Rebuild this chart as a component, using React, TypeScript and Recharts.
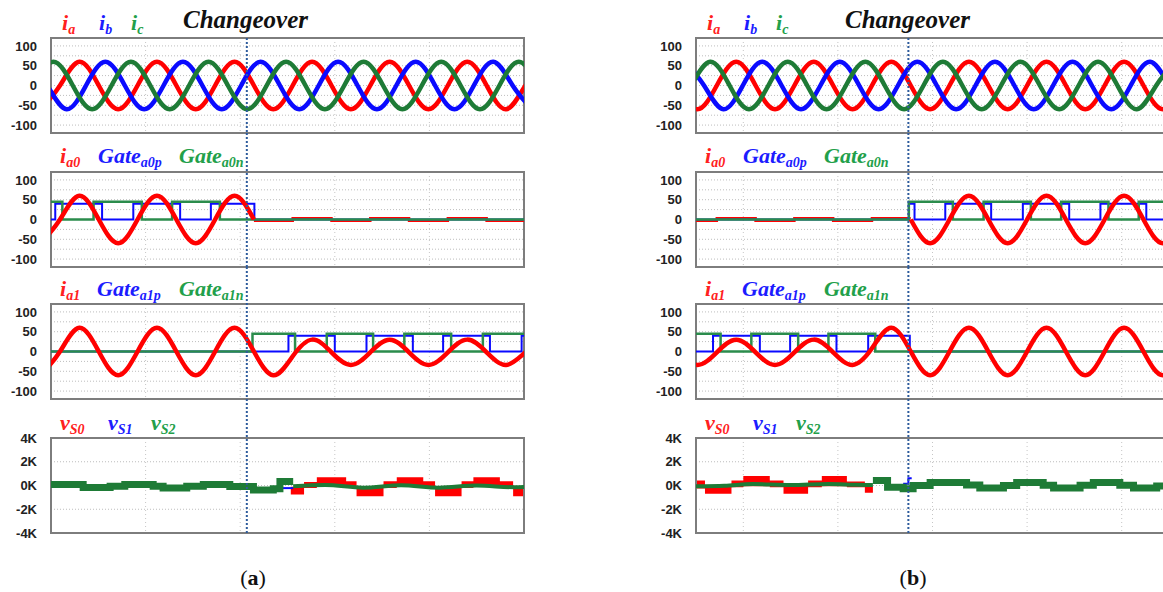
import React from 'react';
import {
  ComposedChart, Line, Area, XAxis, YAxis, CartesianGrid, ReferenceLine, ReferenceArea,
} from 'recharts';

// time in ms across each plot window
const changeoverA = 41.4;
const changeoverB = 44.9;
const gridA = [20, 40, 60, 80];
const gridB = [10, 30, 50, 70, 90];
const currentTicks = [-100, -75, -50, -25, 0, 25, 50, 75, 100];
const voltTicks = [-4000, -2000, 0, 2000, 4000];

// (a) load currents
const iaA = [[-2.2,-60],[1.9,0],[6.0,60],[10.1,0],[14.2,-60],[18.3,0],[22.4,60],[26.5,0],[30.6,-60],[34.7,0],[38.8,60],[42.9,0],[47.0,-60],[51.1,0],[55.2,60],[59.3,0],[63.4,-60],[67.5,0],[71.6,60],[75.7,0],[79.8,-60],[83.9,0],[88.0,60],[92.1,0],[96.2,-60],[100.3,0],[104.4,60]];
const ibA = [[-4.9,60],[-0.8,0],[3.3,-60],[7.4,0],[11.5,60],[15.6,0],[19.7,-60],[23.8,0],[27.9,60],[32.0,0],[36.1,-60],[40.2,0],[44.3,60],[48.4,0],[52.5,-60],[56.6,0],[60.7,60],[64.8,0],[68.9,-60],[73.0,0],[77.1,60],[81.2,0],[85.3,-60],[89.4,0],[93.5,60],[97.6,0],[101.7,-60]];
const icA = [[-3.6,0],[0.5,60],[4.6,0],[8.7,-60],[12.8,0],[16.9,60],[21.0,0],[25.1,-60],[29.2,0],[33.3,60],[37.4,0],[41.5,-60],[45.6,0],[49.7,60],[53.8,0],[57.9,-60],[62.0,0],[66.1,60],[70.2,0],[74.3,-60],[78.4,0],[82.5,60],[86.6,0],[90.7,-60],[94.8,0],[98.9,60],[103.0,0]];

// (a) leg 0 / leg 1
const ia0A = [[-2.2,-60],[1.9,0],[6.0,60],[10.1,0],[14.2,-60],[18.3,0],[22.4,60],[26.5,0],[30.6,-60],[34.7,0],[38.8,60],[42.9,0]];
const ia0ResA = [[42.9,-3],[51.1,3],[59.3,-3],[67.5,3],[75.7,-3],[83.9,3],[92.1,-3],[100,-3]];
const gateA0p = [[0,0],[0.9,40],[10.8,0],[17.4,40],[27.3,0],[33.8,40],[43.0,0],[100,0]];
const gateA0n = [[0,45],[2.4,0],[9.0,45],[19.2,0],[25.6,45],[35.7,0],[100,0]];
const ia1A = [[-2.2,-60],[1.9,0],[6.0,60],[10.1,0],[14.2,-60],[18.3,0],[22.4,60],[26.5,0],[30.6,-60],[34.7,0],[38.8,60],[42.9,0],[47.0,-60],[51.1,-12],[55.2,30],[59.3,-2],[63.4,-34],[67.5,-2],[71.6,30],[75.7,-2],[79.8,-34],[83.9,-2],[88.0,30],[92.1,-2],[96.2,-34],[100.3,-2],[104.4,30]];
const gateA1p = [[0,0],[50.2,40],[60.0,0],[66.7,40],[76.5,0],[82.9,40],[92.8,0],[99.5,40],[100,40]];
const gateA1n = [[0,0],[42.6,45],[51.6,0],[58.3,45],[68.1,0],[74.7,45],[84.6,0],[91.3,45],[100,45]];

// (a) switch voltages: [t, low, high] bands and centre lines
const vS0A = [[50.7,-760,-100],[53.5,-200,300],[56.2,-60,700],[62.4,-200,350],[64.6,-900,-100],[70.3,-200,350],[73.1,-60,700],[78.7,-200,350],[81.2,-900,-100],[86.8,-200,350],[89.3,-60,700],[94.9,-200,350],[97.7,-900,-100],[100,-900,-100]];
const vS1A = [[48.4,-220],[51.2,-220]];
const vS2A1 = [[0,85],[6.8,-170],[12.5,-55],[15.6,85],[21.6,-55],[23.7,-200],[28.7,-55],[32.2,85],[37.8,-90],[42.8,-370],[47.0,-270],[48.4,340],[51.2,340]];
const vS2A2 = [[51.2,-60],[58,40],[66,-180],[74,20],[82,-180],[90,0],[98,-150],[100,-130]];

// (b) load currents
const iaB = [[-3.8,0],[0.3,-60],[4.4,0],[8.5,60],[12.6,0],[16.7,-60],[20.8,0],[24.9,60],[29.0,0],[33.1,-60],[37.2,0],[41.3,60],[45.4,0],[49.5,-60],[53.6,0],[57.7,60],[61.8,0],[65.9,-60],[70.0,0],[74.1,60],[78.2,0],[82.3,-60],[86.4,0],[90.5,60],[94.6,0],[98.7,-60],[102.8,0]];
const ibB = [[-2.4,60],[1.7,0],[5.8,-60],[9.9,0],[14.0,60],[18.1,0],[22.2,-60],[26.3,0],[30.4,60],[34.5,0],[38.6,-60],[42.7,0],[46.8,60],[50.9,0],[55.0,-60],[59.1,0],[63.2,60],[67.3,0],[71.4,-60],[75.5,0],[79.6,60],[83.7,0],[87.8,-60],[91.9,0],[96.0,60],[100.1,0],[104.2,-60]];
const icB = [[-5.2,-60],[-1.1,0],[3.0,60],[7.1,0],[11.2,-60],[15.3,0],[19.4,60],[23.5,0],[27.6,-60],[31.7,0],[35.8,60],[39.9,0],[44.0,-60],[48.1,0],[52.2,60],[56.3,0],[60.4,-60],[64.5,0],[68.6,60],[72.7,0],[76.8,-60],[80.9,0],[85.0,60],[89.1,0],[93.2,-60],[97.3,0],[101.4,60]];

// (b) leg 0 / leg 1
const ia0B = [[45.4,0],[49.5,-60],[53.6,0],[57.7,60],[61.8,0],[65.9,-60],[70.0,0],[74.1,60],[78.2,0],[82.3,-60],[86.4,0],[90.5,60],[94.6,0],[98.7,-60],[102.8,0]];
const ia0ResB = [[0,-3],[4.4,3],[12.6,-3],[20.8,3],[29.0,-3],[37.2,3],[45.4,3]];
const gateB0p = [[0,0],[45.0,40],[46.2,0],[52.7,40],[62.4,0],[69.1,40],[78.9,0],[85.5,40],[95.2,0],[100,0]];
const gateB0n = [[0,0],[45.0,45],[54.3,0],[60.8,45],[70.8,0],[77.2,45],[87.2,0],[93.6,45],[100,45]];
const ia1B = [[-3.8,-2],[0.3,-34],[4.4,-2],[8.5,30],[12.6,-2],[16.7,-34],[20.8,-2],[24.9,30],[29.0,-2],[33.1,-34],[37.2,8],[41.3,60],[45.4,0],[49.5,-60],[53.6,0],[57.7,60],[61.8,0],[65.9,-60],[70.0,0],[74.1,60],[78.2,0],[82.3,-60],[86.4,0],[90.5,60],[94.6,0],[98.7,-60],[102.8,0]];
const gateB1p = [[0,0],[3.6,40],[13.5,0],[19.9,40],[29.7,0],[36.4,40],[45.2,0],[100,0]];
const gateB1n = [[0,45],[5.2,0],[11.7,45],[21.6,0],[28.0,45],[37.9,0],[100,0]];

// (b) switch voltages
const vS0B = [[0,-250,420],[1.9,-700,0],[7.5,-150,420],[10.0,-60,790],[15.6,-150,420],[18.5,-700,0],[23.7,-150,420],[26.6,-60,790],[31.9,-150,340],[35.7,-620,-60],[37.4,-620,-60]];
const vS1B = [[43.8,140],[44.9,620],[45.6,620]];
const vS2B1 = [[0,-60],[6,-20],[12,120],[20,40],[28,130],[34,60],[37.4,40]];
const vS2B2 = [[37.4,420],[40.5,-140],[43.8,-280],[45.9,0],[49.5,250],[57.2,50],[60.0,-200],[65.0,0],[67.8,250],[73.4,30],[75.6,-200],[81.2,30],[84.0,250],[89.6,30],[92.5,-200],[97.4,-50],[100,-50]];

const RED = '#ff0000';
const BLUE = '#0a0aff';
const GREEN = '#1e7b36';
const GATE_GREEN = '#2b8c4c';
const SERIF = '"Liberation Serif", "Times New Roman", serif';
const SANS = '"Liberation Sans", Arial, sans-serif';

type Trace = { pts: number[][]; color: string; w: number; curve: 'natural' | 'stepAfter' | 'monotone'; band?: boolean };

const toRows = (pts: number[][]) => pts.map(([t, v]) => ({ t, v }));
const toBand = (pts: number[][]) => pts.map(([t, lo, hi]) => ({ t, r: [lo, hi] }));

const PLOT_H = 95;
const BOTTOM = 8;

function Panel({ side, top, gap, extend, volts, changeover, traces }: {
  side: 'a' | 'b'; top: number; gap: number; extend: number; volts?: boolean; changeover: number; traces: Trace[];
}) {
  const isA = side === 'a';
  const domain = volts ? [-4000, 4000] : [-120, 120];
  return (
    <div style={{ position: 'absolute', left: isA ? 0 : 640, top: top - gap }}>
      <ComposedChart
        width={isA ? 530 : 540}
        height={gap + PLOT_H + BOTTOM}
        margin={{ top: gap, right: isA ? 6 : 11, bottom: BOTTOM, left: 0 }}
      >
        <CartesianGrid horizontal vertical={false} stroke="#bdbdbd" strokeDasharray="1 2" />
        <CartesianGrid horizontal={false} vertical stroke="#c6c6c6" strokeDasharray="1 3" />
        <XAxis dataKey="t" type="number" domain={[0, 100]} ticks={isA ? gridA : gridB} allowDataOverflow hide />
        <YAxis
          type="number"
          domain={domain}
          ticks={volts ? voltTicks : currentTicks}
          interval={0}
          allowDataOverflow
          width={isA ? 51 : 56}
          axisLine={false}
          tickLine={false}
          tickSize={0}
          tickMargin={14}
          tick={{ fontSize: 13, fontWeight: 'bold', fill: '#222', fontFamily: SANS }}
          tickFormatter={(v: number) => volts ? `${v / 1000}K` : (v % 50 === 0 ? String(v) : '')}
        />
        {traces.map((s, i) => s.band ? (
          <Area key={i} data={toBand(s.pts)} dataKey="r" type="stepAfter" stroke="none" fill={s.color}
            fillOpacity={1} isAnimationActive={false} dot={false} activeDot={false} />
        ) : (
          <Line key={i} data={toRows(s.pts)} dataKey="v" type={s.curve} stroke={s.color} strokeWidth={s.w}
            dot={false} activeDot={false} isAnimationActive={false} />
        ))}
        <ReferenceArea x1={0} x2={100} y1={domain[0]} y2={domain[1]} fill="none" stroke="#7d7d7d" strokeWidth={2} ifOverflow="visible" />
        <ReferenceLine
          x={changeover}
          ifOverflow="visible"
          shape={(p: any) => (
            <line x1={p.x1} x2={p.x2} y1={Math.min(p.y1, p.y2) - extend} y2={Math.max(p.y1, p.y2)}
              stroke="#2d5b9c" strokeWidth={2} strokeDasharray="2 2" />
          )}
        />
      </ComposedChart>
    </div>
  );
}

function Sym({ x, y, main, sub, color, size = 22 }: { x: number; y: number; main: string; sub: string; color: string; size?: number }) {
  return (
    <text x={x} y={y} fill={color} fontFamily={SERIF} fontStyle="italic" fontWeight="bold" fontSize={size}>
      {main}
      <tspan fontSize={14} dy={4}>{sub}</tspan>
    </text>
  );
}

const TXT_RED = '#ff2020';
const TXT_BLUE = '#1c1cff';
const TXT_GREEN = '#22a04a';

function Labels({ x0, cx }: { x0: number; cx: number }) {
  const d = x0;
  return (
    <g>
      <Sym x={d + 2} y={30} main="i" sub="a" color={TXT_RED} />
      <Sym x={d + 39} y={30} main="i" sub="b" color={TXT_BLUE} />
      <Sym x={d + 71} y={30} main="i" sub="c" color={TXT_GREEN} />
      <text x={cx} y={28} fontFamily={SERIF} fontStyle="italic" fontWeight="bold" fontSize={25} fill="#111">Changeover</text>

      <Sym x={d} y={163} main="i" sub="a0" color={TXT_RED} />
      <Sym x={d + 38} y={163} main="Gate" sub="a0p" color={TXT_BLUE} />
      <Sym x={d + 119} y={163} main="Gate" sub="a0n" color={TXT_GREEN} />

      <Sym x={d} y={296} main="i" sub="a1" color={TXT_RED} />
      <Sym x={d + 37} y={296} main="Gate" sub="a1p" color={TXT_BLUE} />
      <Sym x={d + 119} y={296} main="Gate" sub="a1n" color={TXT_GREEN} />

      <Sym x={d} y={430} main="v" sub="S0" color={TXT_RED} />
      <Sym x={d + 48} y={430} main="v" sub="S1" color={TXT_BLUE} />
      <Sym x={d + 91} y={430} main="v" sub="S2" color={TXT_GREEN} />
    </g>
  );
}

export default function App() {
  const tops = [38, 172, 304, 438];
  const ext = [0, 39, 37, 39];
  const gaps = [38, 40, 40, 40];

  const colA: Trace[][] = [
    [
      { pts: iaA, color: RED, w: 4.5, curve: 'natural' },
      { pts: ibA, color: BLUE, w: 4.5, curve: 'natural' },
      { pts: icA, color: GREEN, w: 4.5, curve: 'natural' },
    ],
    [
      { pts: ia0ResA, color: RED, w: 2.5, curve: 'stepAfter' },
      { pts: gateA0p, color: BLUE, w: 2, curve: 'stepAfter' },
      { pts: gateA0n, color: GATE_GREEN, w: 2.5, curve: 'stepAfter' },
      { pts: ia0A, color: RED, w: 4.5, curve: 'natural' },
    ],
    [
      { pts: gateA1p, color: BLUE, w: 2, curve: 'stepAfter' },
      { pts: gateA1n, color: GATE_GREEN, w: 2.5, curve: 'stepAfter' },
      { pts: ia1A, color: RED, w: 4.5, curve: 'natural' },
    ],
    [
      { pts: vS0A, color: RED, w: 0, curve: 'stepAfter', band: true },
      { pts: vS1A, color: BLUE, w: 2, curve: 'stepAfter' },
      { pts: vS2A1, color: GREEN, w: 7, curve: 'stepAfter' },
      { pts: vS2A2, color: GREEN, w: 4, curve: 'monotone' },
    ],
  ];

  const colB: Trace[][] = [
    [
      { pts: iaB, color: RED, w: 4.5, curve: 'natural' },
      { pts: ibB, color: BLUE, w: 4.5, curve: 'natural' },
      { pts: icB, color: GREEN, w: 4.5, curve: 'natural' },
    ],
    [
      { pts: ia0ResB, color: RED, w: 2.5, curve: 'stepAfter' },
      { pts: gateB0p, color: BLUE, w: 2, curve: 'stepAfter' },
      { pts: gateB0n, color: GATE_GREEN, w: 2.5, curve: 'stepAfter' },
      { pts: ia0B, color: RED, w: 4.5, curve: 'natural' },
    ],
    [
      { pts: gateB1p, color: BLUE, w: 2, curve: 'stepAfter' },
      { pts: gateB1n, color: GATE_GREEN, w: 2.5, curve: 'stepAfter' },
      { pts: ia1B, color: RED, w: 4.5, curve: 'natural' },
    ],
    [
      { pts: vS0B, color: RED, w: 0, curve: 'stepAfter', band: true },
      { pts: vS1B, color: BLUE, w: 2, curve: 'stepAfter' },
      { pts: vS2B1, color: GREEN, w: 4, curve: 'monotone' },
      { pts: vS2B2, color: GREEN, w: 7, curve: 'stepAfter' },
    ],
  ];

  return (
    <div style={{ position: 'relative', width: 1163, height: 592, overflow: 'hidden', background: '#fff' }}>
      <style>{'body{margin:0}'}</style>
      {colA.map((tr, i) => (
        <Panel key={`a${i}`} side="a" top={tops[i]} gap={gaps[i]} extend={ext[i]} volts={i === 3}
          changeover={changeoverA} traces={tr} />
      ))}
      {colB.map((tr, i) => (
        <Panel key={`b${i}`} side="b" top={tops[i]} gap={gaps[i]} extend={ext[i]} volts={i === 3}
          changeover={changeoverB} traces={tr} />
      ))}
      <svg width={1163} height={592} style={{ position: 'absolute', left: 0, top: 0, pointerEvents: 'none' }}>
        <Labels x0={60} cx={183} />
        <Labels x0={705} cx={845} />
        <text x={253} y={585} textAnchor="middle" fontFamily={SERIF} fontSize={22} fill="#111">
          (<tspan fontWeight="bold">a</tspan>)
        </text>
        <text x={913} y={585} textAnchor="middle" fontFamily={SERIF} fontSize={22} fill="#111">
          (<tspan fontWeight="bold">b</tspan>)
        </text>
      </svg>
    </div>
  );
}
